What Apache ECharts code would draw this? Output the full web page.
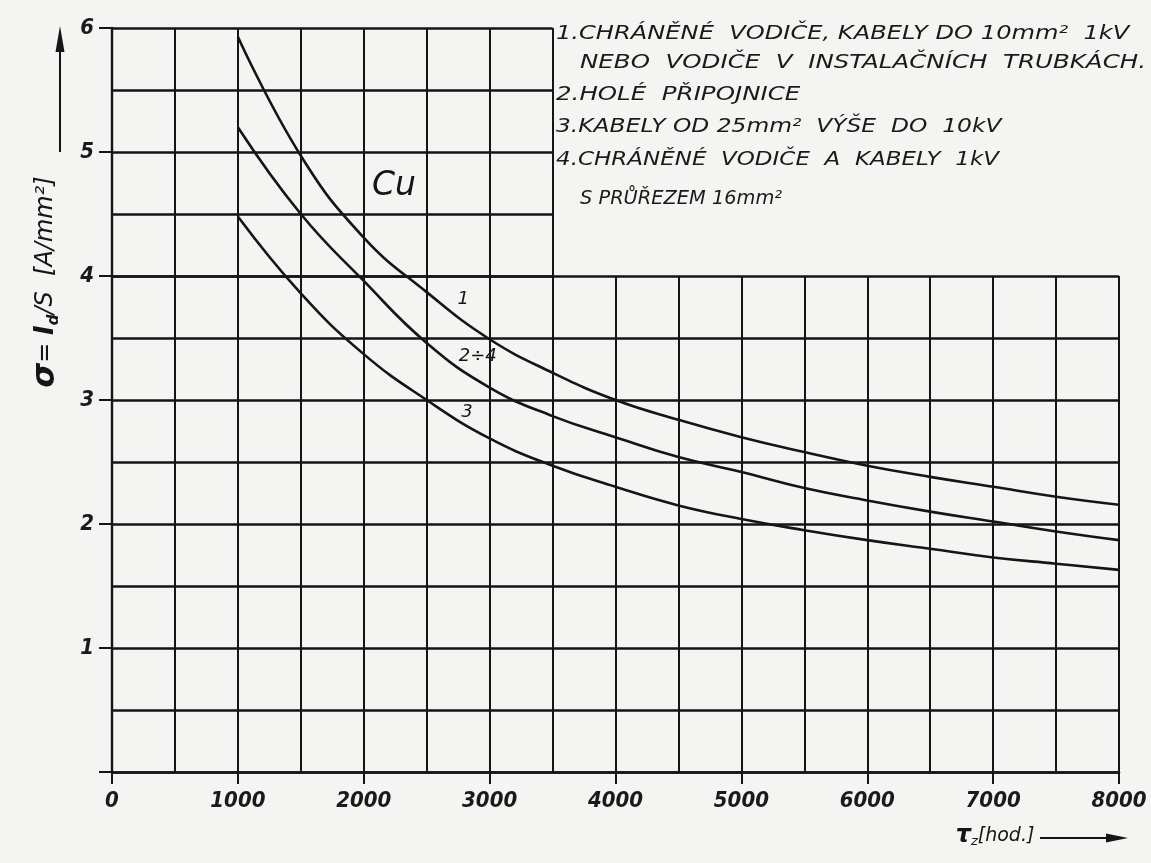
<!DOCTYPE html>
<html>
<head>
<meta charset="utf-8">
<script src="https://cdn.jsdelivr.net/npm/echarts@6/dist/echarts.min.js"></script>
<style>
  html, body { margin: 0; padding: 0; background: #f4f4f2; }
  #chart { width: 1151px; height: 863px; }
</style>
</head>
<body>
<div id="chart"></div>
<script>
// Operating hours τz [hod.] at which the curves are read
const hours = [1000, 1500, 2000, 2500, 3000, 3500, 4000, 4500, 5000, 5500, 6000, 6500, 7000, 7500, 8000];

// Economic current density σ = Id/S [A/mm²] for copper conductors
const curve1    = [5.93, 4.97, 4.31, 3.87, 3.49, 3.22, 3.00, 2.84, 2.70, 2.58, 2.47, 2.38, 2.30, 2.22, 2.155];
const curve2to4 = [5.20, 4.50, 3.96, 3.46, 3.10, 2.87, 2.70, 2.54, 2.42, 2.29, 2.19, 2.10, 2.02, 1.94, 1.87];
const curve3    = [4.48, 3.86, 3.37, 3.00, 2.69, 2.47, 2.30, 2.15, 2.04, 1.95, 1.87, 1.80, 1.73, 1.68, 1.63];

const curveNames = ['1', '2÷4', '3'];

const xTickLabels = ['0', '1000', '2000', '3000', '4000', '5000', '6000', '7000', '8000'];
const yTickLabels = ['', '1', '2', '3', '4', '5', '6'];

const legendLines = [
  '1.CHRÁNĚNÉ  VODIČE, KABELY DO 10mm²  1kV',
  'NEBO  VODIČE  V  INSTALAČNÍCH  TRUBKÁCH.',
  '2.HOLÉ  PŘIPOJNICE',
  '3.KABELY OD 25mm²  VÝŠE  DO  10kV',
  '4.CHRÁNĚNÉ  VODIČE  A  KABELY  1kV',
  'S PRŮŘEZEM 16mm²'
];
const materialLabel = 'Cu';

// ---- layout ----
const W = 1151, H = 863;
const plot = { left: 112, right: 32, top: 28, bottom: 91 };
const xMax = 8000, yMax = 6, yUpper = 4, xUpper = 3500;
const plotW = W - plot.left - plot.right;
const plotH = H - plot.top - plot.bottom;
const upperH = plotH * (yMax - yUpper) / yMax;
const upperW = plotW * xUpper / xMax;

const INK = '#151515';
const FONT = '"DejaVu Sans", "Liberation Sans", sans-serif';
const TICK_FONT = '"DejaVu Sans Condensed", "Liberation Sans Narrow", "DejaVu Sans", sans-serif';

const pairs = arr => hours.map((h, i) => [h, arr[i]]);

const hiddenAxis = {
  axisLine: { show: false }, axisTick: { show: false }, axisLabel: { show: false }
};

const chart = echarts.init(document.getElementById('chart'), null, { renderer: 'canvas' });

const curveSeries = (name, values, labelCoord) => ({
  name: name,
  type: 'line',
  xAxisIndex: 0, yAxisIndex: 0,
  data: pairs(values),
  smooth: 0.45,
  showSymbol: false,
  z: 5,
  lineStyle: { color: INK, width: 2.6 },
  markPoint: {
    symbol: 'circle', symbolSize: 0,
    data: [{ coord: labelCoord, value: name }],
    label: {
      show: true, formatter: name, color: INK,
      fontFamily: FONT, fontStyle: 'italic', fontSize: 18
    }
  }
});

// horizontal stretch of each legend line (technical lettering is wide)
const legendStretch = [1.27, 1.29, 1.29, 1.23, 1.21, 1.02];

chart.setOption({
  backgroundColor: '#f4f4f2',
  animation: false,
  grid: [
    { left: plot.left, right: plot.right, top: plot.top, bottom: plot.bottom },
    { left: plot.left, right: plot.right, top: plot.top + upperH, bottom: plot.bottom },
    { left: plot.left, width: upperW, top: plot.top, height: upperH }
  ],
  xAxis: [
    {
      gridIndex: 0, type: 'value', min: 0, max: xMax, interval: 1000,
      axisLine: { show: true, lineStyle: { color: INK, width: 2.6 } },
      axisTick: { show: true, length: 12, inside: false, lineStyle: { color: INK, width: 2 } },
      axisLabel: {
        margin: 18, color: '#1a1a1a', fontFamily: TICK_FONT, fontStyle: 'italic',
        fontWeight: 'bold', fontSize: 22,
        formatter: v => xTickLabels[v / 1000]
      },
      splitLine: { show: false }
    },
    {
      gridIndex: 1, type: 'value', min: 0, max: xMax, interval: 500, ...hiddenAxis,
      splitLine: { show: true, lineStyle: { color: INK, width: 2 } }
    },
    {
      gridIndex: 2, type: 'value', min: 0, max: xUpper, interval: 500, ...hiddenAxis,
      splitLine: { show: true, lineStyle: { color: INK, width: 2 } }
    }
  ],
  yAxis: [
    {
      gridIndex: 0, type: 'value', min: 0, max: yMax, interval: 1,
      axisLine: { show: true, lineStyle: { color: INK, width: 2.4 } },
      axisTick: { show: true, length: 13, lineStyle: { color: INK, width: 2 } },
      axisLabel: {
        margin: 18, color: '#1a1a1a', fontFamily: TICK_FONT, fontStyle: 'italic',
        fontWeight: 'bold', fontSize: 22,
        formatter: v => yTickLabels[v]
      },
      splitLine: { show: false }
    },
    {
      gridIndex: 1, type: 'value', min: 0, max: yUpper, interval: 0.5, ...hiddenAxis,
      splitLine: { show: true, lineStyle: { color: INK, width: 2.5 } }
    },
    {
      gridIndex: 2, type: 'value', min: yUpper, max: yMax, interval: 0.5, ...hiddenAxis,
      splitLine: { show: true, lineStyle: { color: INK, width: 2.5 } }
    }
  ],
  series: [
    curveSeries(curveNames[0], curve1, [2790, 3.81]),
    curveSeries(curveNames[1], curve2to4, [2905, 3.35]),
    curveSeries(curveNames[2], curve3, [2820, 2.90])
  ],
  graphic: [
    // material mark inside the plot
    {
      type: 'text', x: 394, y: 186, z: 10,
      style: {
        text: materialLabel, fill: INK, font: 'italic 33px ' + FONT,
        textAlign: 'center', textVerticalAlign: 'middle'
      }
    },
    // legend of curve numbers
    ...legendLines.map((line, i) => ({
      type: 'text', z: 10, scaleX: legendStretch[i],
      x: [556, 580, 556, 556, 556, 580][i],
      y: [34, 63, 95, 127, 160, 199][i],
      style: {
        text: line, fill: '#1a1a1a', font: 'italic 19px ' + FONT,
        textAlign: 'left', textVerticalAlign: 'middle'
      }
    })),
    // y axis title, rotated, with arrow
    {
      type: 'text', x: 46, y: 282, rotation: Math.PI / 2, z: 10,
      style: {
        rich: {
          s: { fontFamily: FONT, fontStyle: 'italic', fontSize: 32, fontWeight: 'bold', fill: INK },
          n: { fontFamily: FONT, fontStyle: 'italic', fontSize: 24, fill: INK },
          b: { fontFamily: FONT, fontStyle: 'italic', fontSize: 26, fontWeight: 'bold', fill: INK },
          sub: { fontFamily: FONT, fontStyle: 'italic', fontSize: 15, fontWeight: 'bold', fill: INK, verticalAlign: 'bottom' }
        },
        text: '{s|σ}{n|= }{b|I}{sub|d}{n|/S  [A/mm²]}',
        textAlign: 'center', textVerticalAlign: 'middle'
      }
    },
    {
      type: 'line', z: 10,
      shape: { x1: 60, y1: 152, x2: 60, y2: 40 },
      style: { stroke: INK, lineWidth: 2 }
    },
    {
      type: 'polygon', z: 10,
      shape: { points: [[60, 26], [55.5, 52], [64.5, 52]] },
      style: { fill: INK }
    },
    // x axis title with arrow
    {
      type: 'text', x: 995, y: 836, z: 10,
      style: {
        rich: {
          t: { fontFamily: FONT, fontStyle: 'italic', fontSize: 24, fontWeight: 'bold', fill: INK },
          sub: { fontFamily: FONT, fontStyle: 'italic', fontSize: 13, fill: INK, verticalAlign: 'bottom' },
          n: { fontFamily: FONT, fontStyle: 'italic', fontSize: 19, fill: INK }
        },
        text: '{t|τ}{sub|z}{n|[hod.]}',
        textAlign: 'center', textVerticalAlign: 'middle'
      }
    },
    {
      type: 'line', z: 10,
      shape: { x1: 1040, y1: 838, x2: 1112, y2: 838 },
      style: { stroke: INK, lineWidth: 2 }
    },
    {
      type: 'polygon', z: 10,
      shape: { points: [[1128, 838], [1106, 833.5], [1106, 842.5]] },
      style: { fill: INK }
    }
  ]
});
</script>
</body>
</html>
